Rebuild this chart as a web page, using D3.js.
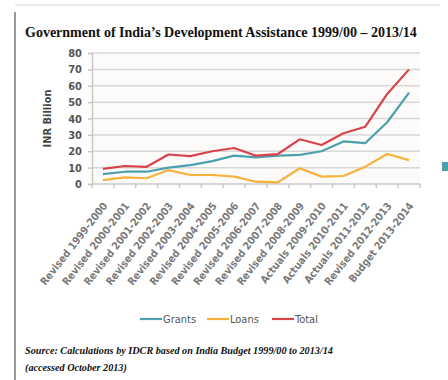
<!DOCTYPE html>
<html>
<head>
<meta charset="utf-8">
<script src="https://cdn.jsdelivr.net/npm/d3@7"></script>
<style>
  body { margin: 0; background: #fff; }
  svg { display: block; }
</style>
</head>
<body>
<svg id="chart" width="448" height="380"></svg>
<script>
const years = ["Revised 1999-2000", "Revised 2000-2001", "Revised 2001-2002", "Revised 2002-2003",
    "Revised 2003-2004", "Revised 2004-2005", "Revised 2005-2006", "Revised 2006-2007",
    "Revised 2007-2008", "Revised 2008-2009", "Actuals 2009-2010", "Actuals 2010-2011",
    "Actuals 2011-2012", "Revised 2012-2013", "Budget 2013-2014"]
const grants = [6, 7.5, 7.5, 10, 11.5, 14, 17.3, 16.3, 17.3, 17.8, 20, 26, 25, 37.7, 55.8]
const loans = [2.4, 4, 3.5, 8.5, 5.5, 5.5, 4.5, 1.4, 1, 9.6, 4.5, 4.9, 10.6, 18.3, 14.6]
const total = [9.2, 11, 10.5, 18, 17, 20, 22, 17.3, 18.3, 27.3, 23.8, 31, 35, 55, 70]
const yTicks = [0, 10, 20, 30, 40, 50, 60, 70, 80]

const series = [
    { name: "Grants", values: grants, color: "#4ba0ad" },
    { name: "Loans", values: loans, color: "#f7b13c" },
    { name: "Total", values: total, color: "#d8434b" }
]

const sans = "DejaVu Sans Condensed, DejaVu Sans, sans-serif"
const serif = "Liberation Serif, serif"

const svg = d3.select("#chart")

// page frame from the clipped screenshot
svg.append("line").attr("x1", 15).attr("x2", 440).attr("y1", 5).attr("y2", 5)
    .attr("stroke", "#e2e2e2").attr("stroke-width", 1.5)
svg.append("line").attr("x1", 15).attr("x2", 15).attr("y1", 12).attr("y2", 380)
    .attr("stroke", "#9a9a9a").attr("stroke-width", 2)

svg.append("text")
    .attr("x", 25).attr("y", 37)
    .attr("font-family", serif)
    .attr("font-weight", "bold")
    .attr("font-size", 14)
    .attr("fill", "#111")
    .text("Government of India\u2019s Development Assistance 1999/00 \u2013 2013/14")

const plotL = 92, plotR = 420, plotT = 53, plotB = 184

const x = d3.scaleBand().domain(years).range([plotL, plotR])
const y = d3.scaleLinear().domain([0, 80]).range([plotB, plotT])

svg.append("rect")
    .attr("x", plotL).attr("y", plotT).attr("width", plotR - plotL).attr("height", plotB - plotT)
    .attr("fill", "#fdfbf9")

// gridlines
svg.append("g")
    .selectAll("line")
    .data(yTicks.slice(1))
    .join("line")
    .attr("x1", plotL).attr("x2", plotR)
    .attr("y1", d => y(d)).attr("y2", d => y(d))
    .attr("stroke", "#d8d8d8")
    .attr("stroke-width", 1.5)

const yAxis = svg.append("g")
    .attr("transform", `translate(${plotL},0)`)
    .call(d3.axisLeft(y).tickValues(yTicks).tickSize(4).tickPadding(6))
yAxis.select(".domain").attr("stroke", "#c8c8c8").attr("stroke-width", 1.5)
yAxis.selectAll(".tick line").attr("stroke", "#c8c8c8").attr("stroke-width", 1.5)
yAxis.selectAll("text")
    .attr("font-family", sans)
    .attr("font-weight", "bold")
    .attr("font-size", 11)
    .attr("fill", "#555")

// bottom axis with ticks at band boundaries
const xAxis = svg.append("g").attr("transform", `translate(0,${plotB})`)
xAxis.append("line").attr("x1", plotL).attr("x2", plotR)
    .attr("stroke", "#c8c8c8").attr("stroke-width", 1.5)
xAxis.selectAll(".tk")
    .data(years.concat([null]))
    .join("line")
    .attr("class", "tk")
    .attr("x1", (d, i) => plotL + i * x.step())
    .attr("x2", (d, i) => plotL + i * x.step())
    .attr("y1", 0).attr("y2", 4)
    .attr("stroke", "#c8c8c8").attr("stroke-width", 1.5)
xAxis.selectAll(".lbl")
    .data(years)
    .join("text")
    .attr("class", "lbl")
    .attr("text-anchor", "end")
    .attr("transform", d => `translate(${x(d) + x.bandwidth() / 2 + 5},${22}) rotate(-52)`)
    .attr("font-family", sans)
    .attr("font-weight", "bold")
    .attr("font-size", 10.5)
    .attr("fill", "#7a7a7a")
    .text(d => d)

svg.append("text")
    .attr("transform", `translate(51,${(plotT + plotB) / 2}) rotate(-90)`)
    .attr("text-anchor", "middle")
    .attr("font-family", sans)
    .attr("font-weight", "bold")
    .attr("font-size", 11)
    .attr("fill", "#444")
    .text("INR Billion")

const line = d3.line()
    .x((d, i) => x(years[i]) + x.bandwidth() / 2)
    .y(d => y(d))

svg.append("g")
    .selectAll("path")
    .data(series)
    .join("path")
    .attr("d", d => line(d.values))
    .attr("fill", "none")
    .attr("stroke", d => d.color)
    .attr("stroke-width", 2.2)
    .attr("stroke-linejoin", "round")

// clipped legend marker at right edge
svg.append("rect").attr("x", 442).attr("y", 162).attr("width", 6).attr("height", 9)
    .attr("fill", "#4ba0ad")

// legend
const legendX = [140, 207, 272]
const legend = svg.append("g")
    .selectAll("g")
    .data(series)
    .join("g")
    .attr("transform", (d, i) => `translate(${legendX[i]},319)`)
legend.append("line").attr("x1", 0).attr("x2", 22)
    .attr("stroke", d => d.color).attr("stroke-width", 2.2)
legend.append("text")
    .attr("x", 23).attr("y", 4)
    .attr("font-family", sans)
    .attr("font-size", 11)
    .attr("fill", "#555")
    .text(d => d.name)

const source = svg.append("g")
    .attr("font-family", serif)
    .attr("font-weight", "bold")
    .attr("font-style", "italic")
    .attr("font-size", 10.2)
    .attr("fill", "#111")
source.append("text").attr("x", 25).attr("y", 354)
    .text("Source: Calculations by IDCR based on India Budget 1999/00 to 2013/14")
source.append("text").attr("x", 25).attr("y", 371)
    .text("(accessed October 2013)")
</script>
</body>
</html>
